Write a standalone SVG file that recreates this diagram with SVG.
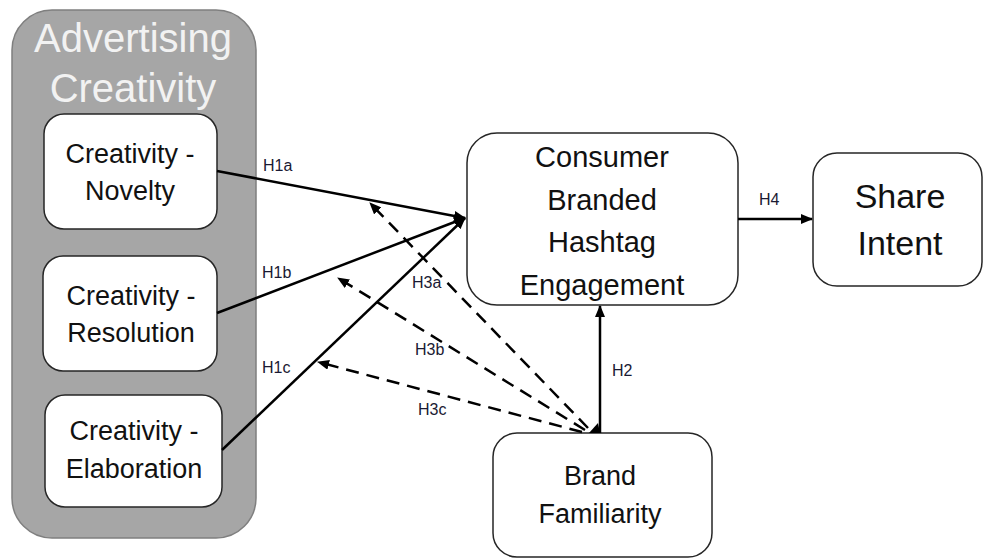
<svg xmlns="http://www.w3.org/2000/svg" width="984" height="559" viewBox="0 0 984 559">
<defs>
<marker id="ah" markerUnits="userSpaceOnUse" markerWidth="12" markerHeight="10" refX="11" refY="5" orient="auto">
<path d="M0,0 L12,5 L0,10 Z" fill="#000"/>
</marker>
<style>
.box{fill:#fff;stroke:#262626;stroke-width:1.5}
.t{font-family:"Liberation Sans",Arial,sans-serif;fill:#111;text-anchor:middle}
.lbl{font-family:"Liberation Sans",Arial,sans-serif;fill:#1a1a33;font-size:16px}
.ln{stroke:#000;stroke-width:2.5;fill:none}
.dl{stroke:#000;stroke-width:2.5;fill:none;stroke-dasharray:13 8}
</style>
</defs>
<rect width="984" height="559" fill="#fff"/>
<g id="advertising-creativity">
<rect x="12" y="10" width="244" height="528" rx="40" fill="#a6a6a6" stroke="#7f7f7f" stroke-width="1.5"/>
<text class="t" x="133" y="52" font-size="40" style="fill:#f2f2f2">Advertising</text>
<text class="t" x="133" y="102" font-size="40" style="fill:#f2f2f2">Creativity</text>
</g>
<g id="novelty">
<rect class="box" x="44" y="114" width="173" height="115" rx="20"/>
<text class="t" x="130" y="163" font-size="27">Creativity -</text>
<text class="t" x="130" y="200" font-size="27">Novelty</text>
</g>
<g id="resolution">
<rect class="box" x="43" y="256" width="174" height="115" rx="20"/>
<text class="t" x="131" y="305" font-size="27">Creativity -</text>
<text class="t" x="131" y="342" font-size="27">Resolution</text>
</g>
<g id="elaboration">
<rect class="box" x="45" y="395" width="177" height="112" rx="20"/>
<text class="t" x="134" y="440" font-size="27">Creativity -</text>
<text class="t" x="134" y="478" font-size="27">Elaboration</text>
</g>
<g id="engagement">
<rect class="box" x="467" y="133" width="271" height="172" rx="30"/>
<text class="t" x="602" y="167" font-size="29">Consumer</text>
<text class="t" x="602" y="210" font-size="29">Branded</text>
<text class="t" x="602" y="252" font-size="29">Hashtag</text>
<text class="t" x="602" y="295" font-size="29">Engagement</text>
</g>
<g id="share-intent">
<rect class="box" x="813" y="153" width="169" height="133" rx="24"/>
<text class="t" x="900" y="208" font-size="34">Share</text>
<text class="t" x="900" y="255" font-size="34">Intent</text>
</g>
<g id="brand-familiarity">
<rect class="box" x="493" y="433" width="219" height="124" rx="24"/>
<text class="t" x="600" y="485" font-size="27">Brand</text>
<text class="t" x="600" y="523" font-size="27">Familiarity</text>
</g>
<g id="connectors">
<line class="ln" x1="217" y1="171" x2="465" y2="218" marker-end="url(#ah)"/>
<line class="ln" x1="217" y1="313" x2="465" y2="218" marker-end="url(#ah)"/>
<line class="ln" x1="222" y1="450" x2="465" y2="218" marker-end="url(#ah)"/>
<line class="dl" x1="588" y1="428" x2="370" y2="203" marker-end="url(#ah)"/>
<line class="dl" x1="585" y1="430" x2="338" y2="278" marker-end="url(#ah)"/>
<line class="dl" x1="582" y1="432" x2="318" y2="362" marker-end="url(#ah)"/>
<line class="ln" x1="600" y1="433" x2="600" y2="306" marker-end="url(#ah)"/>
<path d="M589,433 L600,433 L598,423 Z" fill="#000"/>
<line class="ln" x1="738" y1="219" x2="812" y2="219" marker-end="url(#ah)"/>
<text class="lbl" x="263" y="171">H1a</text>
<text class="lbl" x="262" y="278">H1b</text>
<text class="lbl" x="262" y="373">H1c</text>
<text class="lbl" x="412" y="288">H3a</text>
<text class="lbl" x="415" y="355">H3b</text>
<text class="lbl" x="418" y="415">H3c</text>
<text class="lbl" x="612" y="376">H2</text>
<text class="lbl" x="759" y="205">H4</text>
</g>
</svg>
